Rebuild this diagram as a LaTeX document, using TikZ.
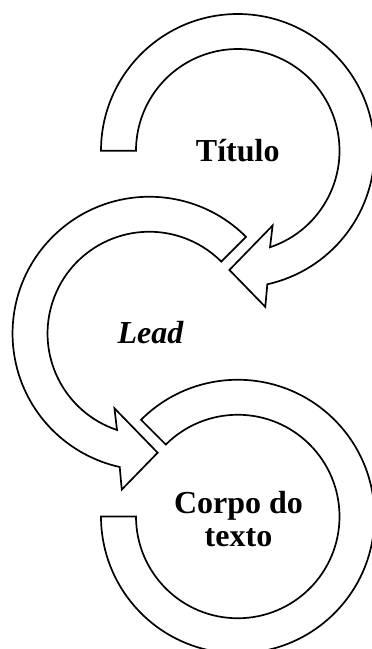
\documentclass[tikz,border=0pt]{standalone}
\usepackage{fontspec}
\setmainfont{Liberation Serif}
\usetikzlibrary{calc}
\tikzset{
  arrowshape/.style={draw=black, fill=white, line width=1.7pt, line join=miter},
  lbl/.style={font=\bfseries\fontsize{32}{32.5}\selectfont, inner sep=0pt, align=center}
}
\begin{document}
\begin{tikzpicture}
\useasboundingbox (0pt,0pt) rectangle (372pt,-649pt);
\clip (0pt,0pt) rectangle (372pt,-649pt);
\coordinate (c1) at (237.75pt,-150.75pt);
\coordinate (c2) at (149.3pt,-333.5pt);
\coordinate (c3) at (237.75pt,-516.5pt);
% arrow 1 (Titulo): tail at 180, clockwise
\path[arrowshape] ($(c1)+(180:136.75pt)$) arc[start angle=180, end angle=-77.5, radius=136.75pt]
  -- ($(c1)+(-80:158.5pt)$) -- ($(c1)+(-94:119.5pt)$) -- ($(c1)+(-65:82.5pt)$)
  -- ($(c1)+(-71.5:101.75pt)$) arc[start angle=-71.5, end angle=180, radius=101.75pt] -- cycle;
% arrow 2 (Lead): tail at 45, counter-clockwise
\path[arrowshape] ($(c2)+(45:136.75pt)$) arc[start angle=45, end angle=257.5, radius=136.75pt]
  -- ($(c2)+(260:158.5pt)$) -- ($(c2)+(274:119.5pt)$) -- ($(c2)+(245:82.5pt)$)
  -- ($(c2)+(251.5:101.75pt)$) arc[start angle=251.5, end angle=45, radius=101.75pt] -- cycle;
% arrow 3 (Corpo do texto): tail at 135, clockwise to 180
\path[arrowshape] ($(c3)+(135:136.75pt)$) arc[start angle=135, end angle=-180, radius=136.75pt]
  -- ($(c3)+(180:101.75pt)$) arc[start angle=-180, end angle=135, radius=101.75pt] -- cycle;
\node[lbl, anchor=base] (t1) at (237.75pt,-161.7pt) {Título};
\node[lbl, anchor=base, font=\bfseries\itshape\fontsize{32}{32.5}\selectfont] (t2) at (150.5pt,-343.5pt) {Lead};
\node[lbl, anchor=base] (t3) at (238.5pt,-546pt) {Corpo do\\texto};
\end{tikzpicture}
\end{document}
